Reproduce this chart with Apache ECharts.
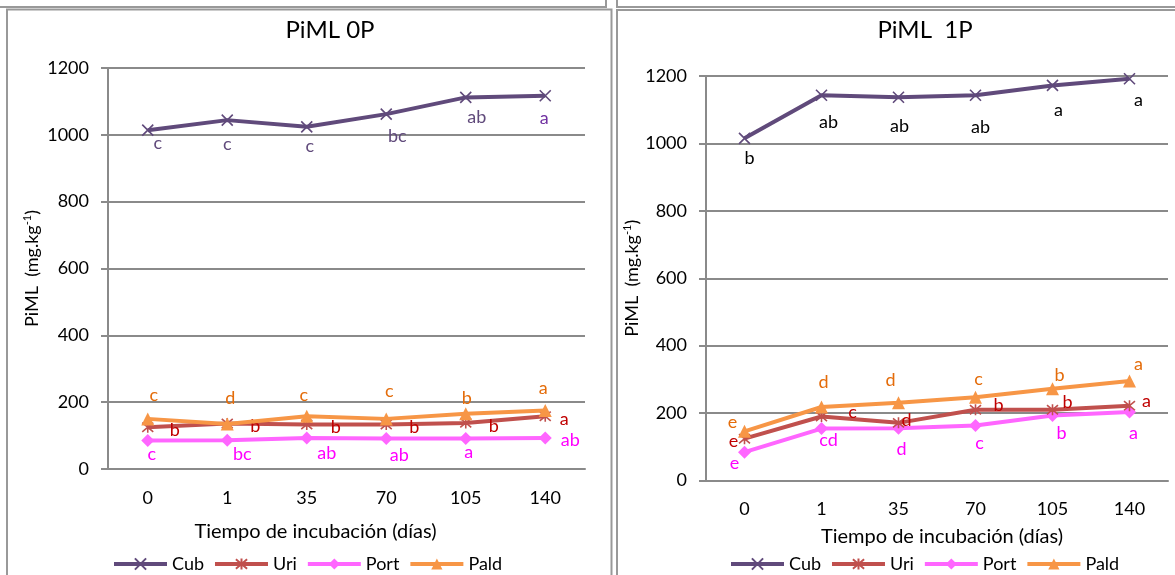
<!DOCTYPE html>
<html>
<head>
<meta charset="utf-8">
<script src="https://cdn.jsdelivr.net/npm/echarts@6/dist/echarts.min.js"></script>
<style>
  html, body { margin: 0; padding: 0; background: #fff; }
  #chart { width: 1175px; height: 575px; }
</style>
</head>
<body>
<div id="chart"></div>
<script>
// Incubation time (days)
const days = ['0', '1', '35', '70', '105', '140'];
const seriesNames = ['Cub', 'Uri', 'Port', 'Pald'];

// PiML, 0P treatment (mg.kg-1)
const cub0  = [1014, 1044, 1024, 1062, 1112, 1117];
const uri0  = [125, 136, 133, 133, 138, 158];
const port0 = [85, 86, 93, 91, 91, 93];
const pald0 = [150, 135, 158, 150, 165, 175];

// PiML, 1P treatment (mg.kg-1)
const cub1  = [1015, 1143, 1137, 1143, 1172, 1192];
const uri1  = [124, 190, 171, 210, 210, 222];
const port1 = [84, 154, 155, 163, 193, 203];
const pald1 = [146, 218, 231, 247, 272, 295];

// Significance letters per point
const cubL0  = ['c', 'c', 'c', 'bc', 'ab', 'a'];
const uriL0  = ['b', 'b', 'b', 'b', 'b', 'a'];
const portL0 = ['c', 'bc', 'ab', 'ab', 'a', 'ab'];
const paldL0 = ['c', 'd', 'c', 'c', 'b', 'a'];
const cubL1  = ['b', 'ab', 'ab', 'ab', 'a', 'a'];
const uriL1  = ['e', 'c', 'd', 'b', 'b', 'a'];
const portL1 = ['e', 'cd', 'd', 'c', 'b', 'a'];
const paldL1 = ['e', 'd', 'd', 'c', 'b', 'a'];

// ---- styling ----
const FONT = 'Lato, "Noto Sans", sans-serif';
const GRAY = '#8a8a8a';
const lineColors = { Cub: '#604A7B', Uri: '#C0504D', Port: '#FF66FF', Pald: '#F79646' };
const letterColors = { Cub: '#604A7B', Uri: '#C00000', Port: '#FF00FF', Pald: '#E46C0A' };
const symbols = {
  Cub: 'path://M0,0L10,10M10,0L0,10',
  Uri: 'path://M0,0L10,10M10,0L0,10M5,-1L5,11',
  Port: 'diamond',
  Pald: 'triangle'
};
const symbolSizes = { Cub: 11, Uri: 11, Port: 13, Pald: 13 };

// label placement (pixel shift from marker centre)
const shifts = {
  cub0:  [[10, 13], [0, 24], [3, 19], [11, 22], [11, 20], [-1, 22]],
  uri0:  [[27, 3], [28, 3], [29, 3], [28, 3], [28, 3], [19, 3]],
  port0: [[4, 14], [15, 14], [20, 15], [13, 17], [3, 14], [25, 2]],
  pald0: [[6, -24], [3, -26], [-3, -21], [3, -28], [1, -16], [-2, -22]],
  cub1:  [[5, 20], [7, 27], [1, 29], [5, 32], [6, 25], [9, 21]],
  uri1:  [[-11, 2], [31, -4], [8, -3], [23, -5], [15, -8], [17, -4]],
  port1: [[-10, 11], [7, 12], [3, 21], [4, 18], [9, 18], [4, 21]],
  pald1: [[-12, -9], [2, -25], [-8, -22], [3, -18], [7, -14], [9, -17]]
};

function makeSeries(name, values, letters, shift, gridIdx, letterColor) {
  const isPath = symbols[name].indexOf('path://') === 0;
  return {
    name: name,
    type: 'line',
    xAxisIndex: gridIdx,
    yAxisIndex: gridIdx,
    symbol: symbols[name],
    symbolSize: symbolSizes[name],
    showAllSymbol: true,
    animation: false,
    z: name === 'Cub' ? 2 : (name === 'Port' ? 3 : (name === 'Uri' ? 4 : 5)),
    lineStyle: { color: lineColors[name], width: 4 },
    itemStyle: {
      color: lineColors[name],
      borderColor: lineColors[name],
      borderWidth: isPath ? 1.6 : 0
    },
    emphasis: { disabled: true },
    data: values.map((v, i) => ({
      value: v,
      label: {
        show: true,
        position: 'inside',
        align: 'center',
        verticalAlign: 'middle',
        formatter: letters[i],
        offset: shift[i],
        color: Array.isArray(letterColor) ? letterColor[i] : letterColor,
        fontFamily: FONT,
        fontSize: 18
      }
    }))
  };
}

const chart = echarts.init(document.getElementById('chart'), null, { renderer: 'canvas' });

function yAxisFor(gridIdx, gap) {
  return {
    type: 'value',
    gridIndex: gridIdx,
    min: 0,
    max: 1200,
    interval: 200,
    name: 'PiML  (mg.kg{sup|-1})',
    nameLocation: 'middle',
    nameGap: gap,
    nameTextStyle: {
      fontFamily: FONT, fontSize: 18, color: '#000',
      rich: { sup: { fontFamily: FONT, fontSize: 11, color: '#000', verticalAlign: 'top', padding: [0, 0, 9, 0] } }
    },
    axisLine: { show: true, lineStyle: { color: GRAY, width: 2 } },
    axisTick: { show: true, length: 7, lineStyle: { color: GRAY, width: 2 } },
    axisLabel: { margin: 19, fontFamily: FONT, fontSize: 18, color: '#000', formatter: v => String(v) },
    splitLine: { show: true, lineStyle: { color: GRAY, width: 2 } }
  };
}

// namePad shifts the axis title sideways: [top, right, bottom, left]
function xAxisFor(gridIdx, gap, namePad) {
  return {
    type: 'category',
    gridIndex: gridIdx,
    data: days,
    boundaryGap: true,
    name: 'Tiempo de incubación (días)',
    nameLocation: 'middle',
    nameGap: gap,
    nameTextStyle: { fontFamily: FONT, fontSize: 20, color: '#000', padding: namePad },
    axisLine: { show: true, lineStyle: { color: GRAY, width: 2 } },
    axisTick: { show: false },
    axisLabel: { margin: 20, fontFamily: FONT, fontSize: 18, color: '#000' }
  };
}

function legendFor(left) {
  return {
    data: seriesNames,
    left: left,
    top: 555,
    padding: 0,
    orient: 'horizontal',
    itemWidth: 53,
    itemHeight: 14,
    itemGap: 9,
    selectedMode: false,
    lineStyle: { width: 4 },
    textStyle: { fontFamily: FONT, fontSize: 18, color: '#000' }
  };
}

const boxStyle = { stroke: '#999', lineWidth: 2, fill: 'none' };

chart.setOption({
  backgroundColor: '#fff',
  animation: false,
  title: [
    { text: 'PiML 0P', left: 330, top: 18, textAlign: 'center', padding: 0,
      textStyle: { fontFamily: FONT, fontSize: 24, fontWeight: 'normal', color: '#000' } },
    { text: 'PiML  1P', left: 925, top: 18, textAlign: 'center', padding: 0,
      textStyle: { fontFamily: FONT, fontSize: 24, fontWeight: 'normal', color: '#000' } }
  ],
  grid: [
    { left: 108, right: 590, top: 68, bottom: 106, containLabel: false },
    { left: 706, right: 7, top: 76, bottom: 94.5, containLabel: false }
  ],
  xAxis: [xAxisFor(0, 53, [0, 62, 0, 0]), xAxisFor(1, 46, [0, 0, 0, 10])],
  yAxis: [yAxisFor(0, 66), yAxisFor(1, 61)],
  legend: [legendFor(112), legendFor(729)],
  graphic: [
    // frames of the panels
    { type: 'rect', shape: { x: -5, y: -20, width: 611, height: 27 }, style: boxStyle, silent: true },
    { type: 'rect', shape: { x: 7, y: 9.5, width: 604.5, height: 600 }, style: boxStyle, silent: true },
    { type: 'rect', shape: { x: 617, y: -20, width: 600, height: 27 }, style: boxStyle, silent: true },
    { type: 'rect', shape: { x: 617, y: 10, width: 600, height: 600 }, style: boxStyle, silent: true }
  ],
  series: [
    makeSeries('Cub', cub0, cubL0, shifts.cub0, 0,
      cubL0.map((_, i) => i === cubL0.length - 1 ? '#7030A0' : letterColors.Cub)),
    makeSeries('Uri', uri0, uriL0, shifts.uri0, 0, letterColors.Uri),
    makeSeries('Port', port0, portL0, shifts.port0, 0, letterColors.Port),
    makeSeries('Pald', pald0, paldL0, shifts.pald0, 0, letterColors.Pald),
    makeSeries('Cub', cub1, cubL1, shifts.cub1, 1, '#000'),
    makeSeries('Uri', uri1, uriL1, shifts.uri1, 1, letterColors.Uri),
    makeSeries('Port', port1, portL1, shifts.port1, 1, letterColors.Port),
    makeSeries('Pald', pald1, paldL1, shifts.pald1, 1, letterColors.Pald)
  ]
});
</script>
</body>
</html>
